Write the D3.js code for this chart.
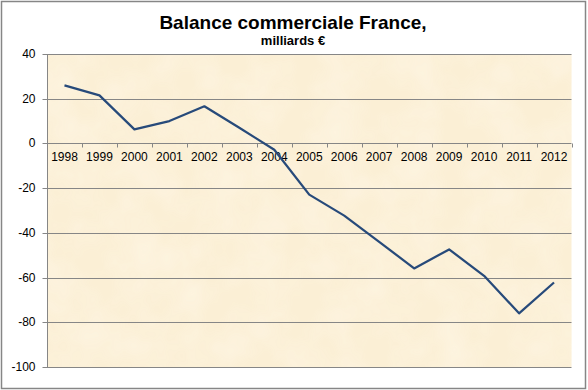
<!DOCTYPE html>
<html><head><meta charset="utf-8">
<script src="https://cdn.jsdelivr.net/npm/d3@7"></script>
<style>html,body{margin:0;padding:0;background:#fff;}svg{display:block;font-family:Arial,"Liberation Sans",sans-serif;}</style>
</head><body>
<script>
const years = ["1998","1999","2000","2001","2002","2003","2004","2005","2006","2007","2008","2009","2010","2011","2012"];
const balance = [26, 21.5, 6.3, 10, 16.6, 7, -2.8, -22.9, -32.3, -44, -55.9, -47.4, -59.2, -76, -62.2];
const yTicks = [40, 20, 0, -20, -40, -60, -80, -100];
const title = "Balance commerciale France,";
const subtitle = "milliards €";

const W = 588, H = 390;
const m = {left: 47, right: 16.5, top: 54, bottom: 23};
const svg = d3.select("body").append("svg").attr("width", W).attr("height", H);

const defs = svg.append("defs");
const f = defs.append("filter").attr("id","parch").attr("x",0).attr("y",0).attr("width","100%").attr("height","100%");
f.append("feTurbulence").attr("type","fractalNoise").attr("baseFrequency","0.025").attr("numOctaves",3).attr("seed",4).attr("result","n");
f.append("feColorMatrix").attr("in","n").attr("type","matrix")
 .attr("values","0 0 0 0 0.99  0 0 0 0 0.93  0 0 0 0 0.80  0 0 0 -1.1 0.75").attr("result","c");
f.append("feComposite").attr("in","c").attr("in2","SourceGraphic").attr("operator","in");

svg.append("rect").attr("x",1.5).attr("y",1.5).attr("width",584).attr("height",387)
  .attr("fill","#fff").attr("stroke","#868686").attr("stroke-width",1.5);

const x = d3.scaleBand().domain(years).range([m.left, W - m.right]);
const y = d3.scaleLinear().domain([-100, 40]).range([H - m.bottom, m.top]);

const pw = W - m.right - m.left, ph = y(-100) - y(40);
svg.append("rect").attr("x", m.left).attr("y", y(40)).attr("width", pw).attr("height", ph).attr("fill", "#fbefd5");
svg.append("rect").attr("x", m.left).attr("y", y(40)).attr("width", pw).attr("height", ph).attr("fill", "#fff").attr("filter","url(#parch)").attr("opacity",0.9);

// gridlines
svg.append("g").selectAll("line").data(yTicks.filter(d => d !== 0)).join("line")
  .attr("x1", m.left).attr("x2", W - m.right)
  .attr("y1", d => Math.round(y(d)) + 0.5).attr("y2", d => Math.round(y(d)) + 0.5)
  .attr("stroke", "#868686").attr("stroke-width", 1);

// y axis
const yAxis = d3.axisLeft(y).tickValues(yTicks).tickSize(5).tickPadding(6).tickFormat(d => String(d));
const gy = svg.append("g").attr("transform", `translate(${m.left + 0.5},0)`).call(yAxis);
gy.select(".domain").attr("stroke", "#868686").attr("d", `M0,${y(40)}V${y(-100)}`);
gy.selectAll(".tick line").attr("stroke", "#868686");
gy.selectAll(".tick").attr("transform", d => `translate(0,${Math.round(y(d)) + 0.5})`);
gy.selectAll("text").attr("font-size", 12).attr("fill", "#000").attr("font-family", "Arial, 'Liberation Sans', sans-serif").attr("x", -12);

// x axis at zero
const y0 = Math.round(y(0)) + 0.5;
const gx = svg.append("g").attr("transform", `translate(0,${y0})`);
gx.append("line").attr("x1", m.left).attr("x2", W - m.right).attr("stroke", "#868686");
const bounds = years.map(d => x(d)).concat([x(years[years.length - 1]) + x.bandwidth()]);
gx.selectAll("line.tk").data(bounds).join("line").attr("class","tk")
  .attr("x1", d => Math.round(d) + 0.5).attr("x2", d => Math.round(d) + 0.5).attr("y1", 0).attr("y2", 4)
  .attr("stroke", "#868686");
const xAxis = d3.axisBottom(x).tickSize(0).tickPadding(9);
const gxa = svg.append("g").attr("transform", `translate(0,${y0})`).call(xAxis);
gxa.select(".domain").remove();
gxa.selectAll("text").attr("font-size", 12).attr("fill", "#000").attr("font-family", "Arial, 'Liberation Sans', sans-serif");

// line
const line = d3.line().x((d, i) => x(years[i]) + x.bandwidth() / 2).y(d => y(d));
svg.append("path").datum(balance).attr("d", line).attr("fill", "none")
  .attr("stroke", "#274a7a").attr("stroke-width", 2.25).attr("stroke-linejoin", "round");

// titles
svg.append("text").attr("x", 293).attr("y", 28.5).attr("text-anchor", "middle")
  .attr("font-size", 19).attr("font-weight", "bold").attr("fill", "#000").text(title);
svg.append("text").attr("x", 293).attr("y", 45).attr("text-anchor", "middle")
  .attr("font-size", 13).attr("font-weight", "bold").attr("fill", "#000").text(subtitle);
</script>
</body></html>
